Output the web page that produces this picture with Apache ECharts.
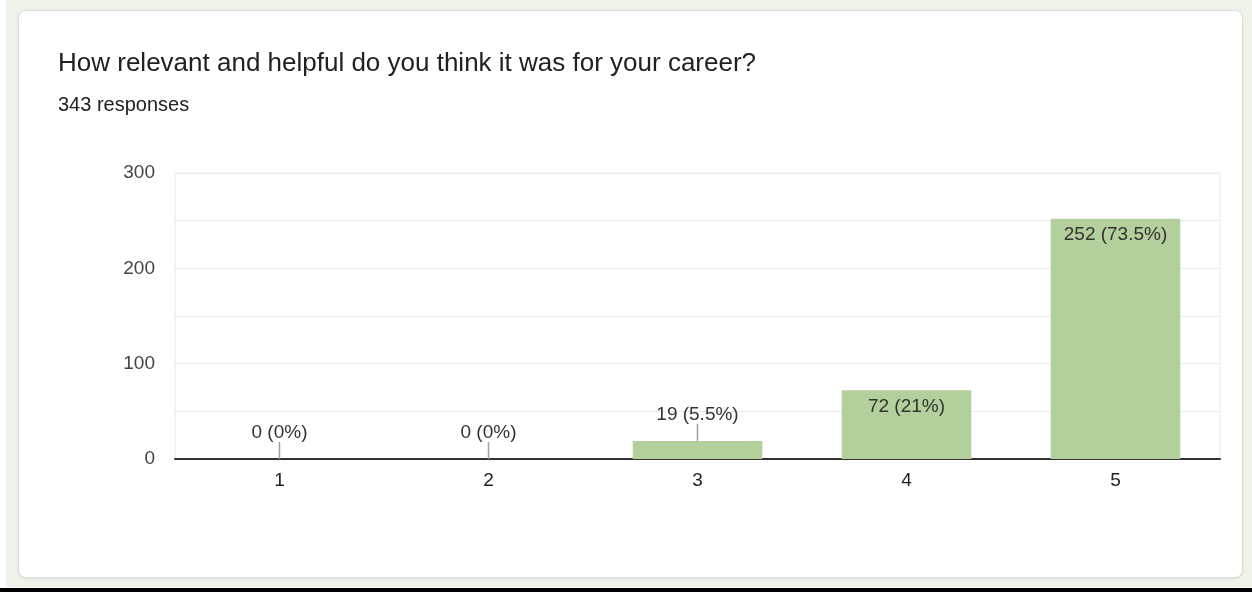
<!DOCTYPE html>
<html>
<head>
<meta charset="utf-8">
<script src="https://cdn.jsdelivr.net/npm/echarts@6/dist/echarts.min.js"></script>
<style>
  html, body { margin: 0; padding: 0; background: #ffffff; }
  #page { position: relative; width: 1252px; height: 592px; overflow: hidden; }
  #backdrop { position: absolute; left: 6px; top: 0; width: 1246px; height: 587px; background: #eef3ea; }
  #rule { position: absolute; left: 0; top: 588px; width: 1252px; height: 4px; background: #000; }
  #card { position: absolute; left: 18px; top: 10px; width: 1223px; height: 566px;
          background: #fff; border: 1px solid #dadce0; border-radius: 8px;
          box-shadow: 0 1px 2px rgba(0,0,0,0.08); }
  #chart { position: absolute; left: 0; top: 0; width: 1252px; height: 592px; }
</style>
</head>
<body>
<div id="page">
  <div id="backdrop"></div>
  <div id="rule"></div>
  <div id="card"></div>
  <div id="chart"></div>
</div>
<script>
// Survey answers on a 1–5 scale
const titleText = 'How relevant and helpful do you think it was for your career?';
const totalResponses = 343;
const categories = ['1', '2', '3', '4', '5'];
const counts = [0, 0, 19, 72, 252];
const yTicks = [0, 100, 200, 300];

const FONT = '"Liberation Sans", Arial, sans-serif';
const BAR_COLOR = '#b3cf9c';
const SHORT_BAR = 30; // bars below this count get their label above, on a stem

function pctText(v) {
  const p = Math.round(v / totalResponses * 1000) / 10;
  return v + ' (' + (Number.isInteger(p) ? p.toFixed(0) : p.toFixed(1)) + '%)';
}

const barData = counts.map(v => {
  const short = v < SHORT_BAR;
  return {
    value: v,
    label: short
      ? { position: 'top', distance: 17 }
      : { position: 'insideTop', distance: 7 }
  };
});

const chart = echarts.init(document.getElementById('chart'), null, { renderer: 'canvas' });
chart.setOption({
  animation: false,
  backgroundColor: 'transparent',
  title: {
    text: titleText,
    subtext: totalResponses + ' responses',
    left: 53,
    top: 46,
    itemGap: 18,
    textStyle: { fontFamily: FONT, fontSize: 26, fontWeight: 'normal', color: '#202124' },
    subtextStyle: { fontFamily: FONT, fontSize: 20, color: '#202124' }
  },
  grid: {
    left: 175, right: 32, top: 173, bottom: 133,
    show: true, borderColor: '#ebebeb', borderWidth: 1
  },
  xAxis: {
    type: 'category',
    data: categories,
    axisLine: { lineStyle: { color: '#333', width: 2 } },
    axisTick: { show: false },
    axisLabel: { fontFamily: FONT, fontSize: 19, color: '#222', margin: 12 }
  },
  yAxis: {
    type: 'value',
    min: 0, max: 300, interval: 50,
    axisLine: { show: false },
    axisTick: { show: false },
    splitLine: { lineStyle: { color: '#ebebeb', width: 1 } },
    axisLabel: {
      fontFamily: FONT, fontSize: 19, color: '#444', margin: 20,
      formatter: v => (yTicks.indexOf(v) >= 0 ? String(v) : '')
    }
  },
  series: [
    {
      type: 'bar',
      data: barData,
      barWidth: '62%',
      itemStyle: { color: BAR_COLOR },
      label: {
        show: true,
        fontFamily: FONT, fontSize: 19, color: '#333',
        formatter: p => pctText(p.value)
      },
      z: 2
    },
    {
      // leader stems joining short bars to their labels
      type: 'custom',
      data: counts.map((v, i) => [i, v]),
      z: 3,
      silent: true,
      renderItem: (params, api) => {
        const v = api.value(1);
        if (v >= SHORT_BAR) return null;
        const p = api.coord([api.value(0), v]);
        return {
          type: 'line',
          shape: { x1: p[0], y1: p[1], x2: p[0], y2: p[1] - 17 },
          style: { stroke: '#9e9e9e', lineWidth: 1.5 }
        };
      }
    }
  ]
});
</script>
</body>
</html>
